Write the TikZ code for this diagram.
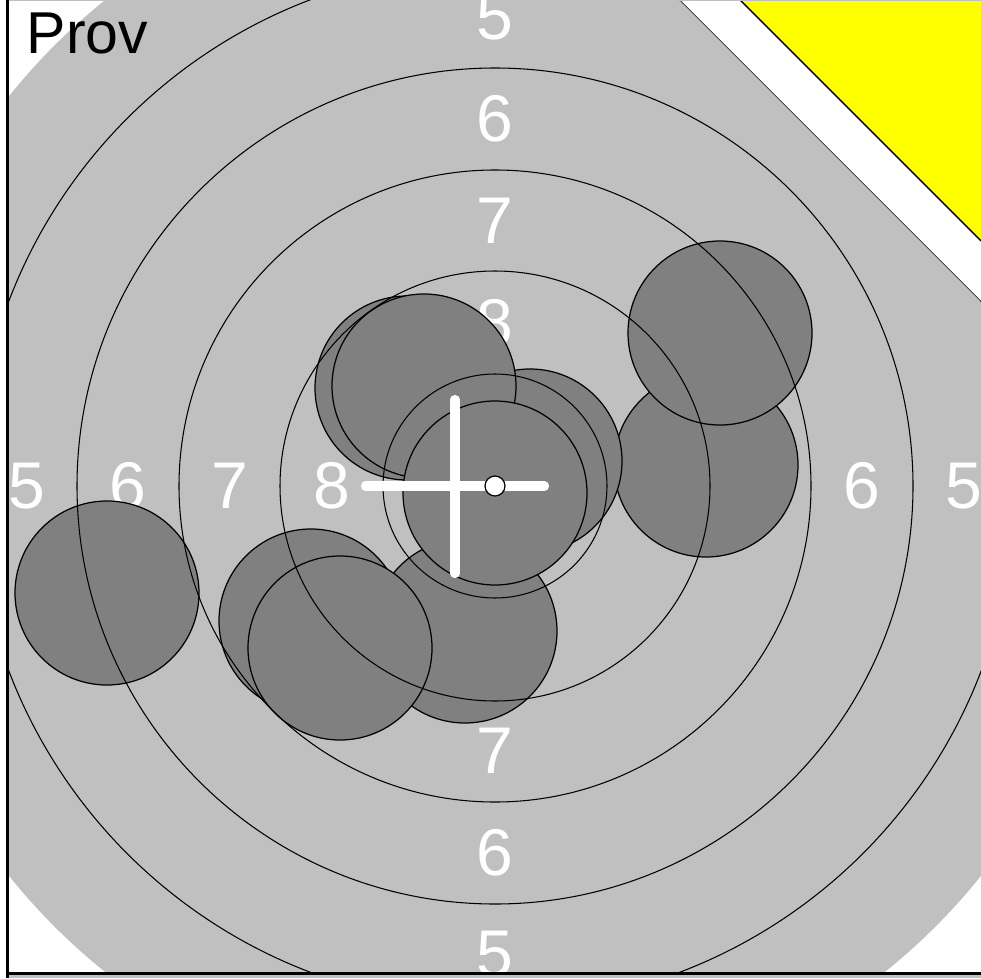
\documentclass[tikz,border=0pt]{standalone}
\usepackage{fontspec}
\setmainfont{Liberation Sans}
\usepackage{tikz}
\usepackage{xcolor}
\usetikzlibrary{positioning}
\definecolor{cTarget}{HTML}{C0C0C0}
\definecolor{cHole}  {HTML}{808080}
\definecolor{cCorner}{HTML}{FFFF00}
\tikzset{
  ringlbl/.style={font=\fontsize{18.8}{18.8}\selectfont, text=white, inner sep=0pt},
  ringline/.style={draw=black, line width=0.3pt},
  hole/.style={fill=cHole, draw=black, line width=0.35pt},
  aimline/.style={draw=white, line width=2.6pt, line cap=round},
}
\begin{document}
\begin{tikzpicture}[x=0.1mm, y=-0.1mm]
  \useasboundingbox (0,0) rectangle (981,978);
  \coordinate (mid) at (495,486);
  % yellow corner and frame
  \fill[cCorner] (740,0) -- (981,0) -- (981,241) -- cycle;
  \draw[line width=0.4pt] (740,0) -- (981,241);
  \draw[line width=0.4pt] (679,0) -- (981,302);
  \fill[cTarget] (8,975) rectangle (981,978);
  \draw[gray!50, line width=0.3pt] (8,0.3) -- (981,0.3);
  \begin{scope}
    \clip (8,0) -- (679,0) -- (981,302) -- (981,973) -- (8,973) -- cycle;
    \fill[cTarget] (mid) circle (623);
    % ring numbers
    \node[ringlbl] (lblT5) at (495,17.5) {5};
    \node[ringlbl] (lblT6) at (495,119) {6};
    \node[ringlbl] (lblT7) at (495,221) {7};
    \node[ringlbl] (lblT8) at (495,322.5) {8};
    \node[ringlbl] (lblL5) at (26.5,486) {5};
    \node[ringlbl] (lblL6) at (128,486) {6};
    \node[ringlbl] (lblL7) at (230,486) {7};
    \node[ringlbl] (lblL8) at (331.5,486) {8};
    \node[ringlbl] (lblR6) at (862,486) {6};
    \node[ringlbl] (lblR5) at (963.5,486) {5};
    \node[ringlbl] (lblB7) at (495,751) {7};
    \node[ringlbl] (lblB6) at (495,853) {6};
    \node[ringlbl] (lblB5) at (495,954.5) {5};
    % shots
    \draw[hole] (107,593) circle (92);
    \draw[hole] (706,465) circle (92);
    \draw[hole] (720,333) circle (92);
    \draw[hole] (407,388) circle (92);
    \draw[hole] (530,461) circle (92);
    \draw[hole] (424,386) circle (92);
    \draw[hole] (311,621) circle (92);
    \draw[hole] (465,631) circle (92);
    \draw[hole] (340,648) circle (92);
    \draw[hole] (495,493) circle (92);
    % rings
    \draw[ringline] (mid) circle (112);
    \draw[ringline] (mid) circle (215);
    \draw[ringline] (mid) circle (316);
    \draw[ringline] (mid) circle (418);
    \draw[ringline] (mid) circle (520);
  \end{scope}
  % group centre and aim mark
  \draw[aimline] (455,399.5) -- (455,573.5);
  \draw[aimline] (365.5,486) -- (544.5,486);
  \draw[fill=white, line width=0.35pt] (mid) circle (10);
  \draw[line width=0.6pt] (7.5,0) -- (7.5,978);
  \draw[line width=0.6pt] (7.5,973.5) -- (981,973.5);
  \node[font=\fontsize{16.8}{16.8}\selectfont, inner sep=0pt, anchor=base west] (title) at (26,54) {Prov};
\end{tikzpicture}
\end{document}
